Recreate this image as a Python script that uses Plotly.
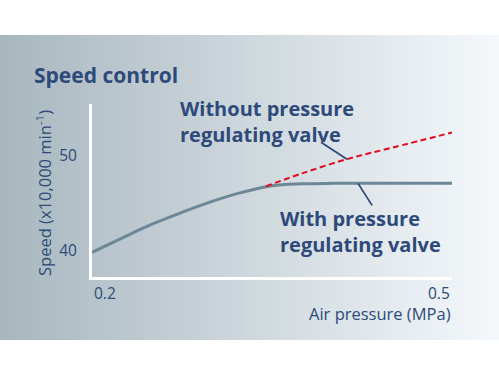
import plotly.graph_objects as go

# ---- data ----
with_x = [0.2, 0.225, 0.25, 0.275, 0.3, 0.325, 0.35, 0.375, 0.4, 0.45, 0.5]
with_y = [39.8, 41.3, 42.75, 44.0, 45.15, 46.1, 46.8, 47.0, 47.05, 47.05, 47.05]
without_x = [0.345, 0.375, 0.4125, 0.45, 0.5]
without_y = [46.75, 48.1, 49.6, 50.8, 52.4]
x_ticks = [0.2, 0.5]
x_tick_labels = ["0.2", "0.5"]
y_ticks = [40, 50]
y_tick_labels = ["40", "50"]

W, H = 499, 376
L, R, T, B = 92, 452, 104, 277  # plot area in pixels
NAVY = "#2d4a7a"
GRAY = "#6d8796"
RED = "#e10a1e"
FONT = "Open Sans"


def px_x(p):
    return (p - L) / (R - L)


def px_y(p):
    return (B - p) / (B - T)


fig = go.Figure()

fig.add_trace(go.Scatter(x=with_x, y=with_y, mode="lines", line=dict(color=GRAY, width=3, shape="spline"),
                         hoverinfo="skip", showlegend=False))
fig.add_trace(go.Scatter(x=without_x, y=without_y, mode="lines",
                         line=dict(color=RED, width=2, dash="6px,3.5px", shape="spline"),
                         hoverinfo="skip", showlegend=False))

# gradient background (strips)
shapes = []
c0 = (0xa8, 0xb7, 0xbf)
c1 = (0xf4, 0xf8, 0xfb)
n = 125
for i in range(n):
    t = i / (n - 1)
    col = "rgb(%d,%d,%d)" % tuple(round(a + (b - a) * t) for a, b in zip(c0, c1))
    x0 = i * W / n
    x1 = (i + 1) * W / n + 0.6
    shapes.append(dict(type="rect", xref="paper", yref="paper", layer="below",
                       x0=px_x(x0), x1=px_x(x1), y0=px_y(340), y1=px_y(35),
                       line=dict(width=0), fillcolor=col))

# leader lines (anchored on data points, offsets in pixels)
shapes.append(dict(type="line", xref="x", yref="y", xsizemode="pixel", ysizemode="pixel",
                   xanchor=without_x[2], yanchor=without_y[2], x0=0, y0=0, x1=-26, y1=17,
                   line=dict(color=NAVY, width=1.8)))
shapes.append(dict(type="line", xref="x", yref="y", xsizemode="pixel", ysizemode="pixel",
                   xanchor=0.4217, yanchor=with_y[-1], x0=0, y0=0, x1=14, y1=-22,
                   line=dict(color=NAVY, width=1.8)))

annotations = [
    dict(text="<b>Speed control</b>", xref="paper", yref="paper", x=px_x(32), y=px_y(75),
         xanchor="left", yanchor="middle", showarrow=False, font=dict(size=21, color=NAVY, family=FONT)),
    dict(text="Speed (x10,000 min<sup>-1</sup>)", xref="paper", yref="paper", x=px_x(44), y=px_y(193),
         xanchor="center", yanchor="middle", textangle=-90, showarrow=False,
         font=dict(size=16.5, color=NAVY, family=FONT)),
    dict(text="Air pressure (MPa)", xref="paper", yref="paper", x=px_x(453), y=px_y(313),
         xanchor="right", yanchor="middle", showarrow=False, font=dict(size=16.5, color=NAVY, family=FONT)),
    dict(text="<b>Without pressure<br>regulating valve</b>", xref="paper", yref="paper", x=px_x(178),
         y=px_y(121), xanchor="left", yanchor="middle", align="left", showarrow=False,
         font=dict(size=20, color=NAVY, family=FONT)),
    dict(text="<b>With pressure<br>regulating valve</b>", xref="paper", yref="paper", x=px_x(278),
         y=px_y(231), xanchor="left", yanchor="middle", align="left", showarrow=False,
         font=dict(size=20, color=NAVY, family=FONT)),
]
for v, lab in zip(x_ticks, x_tick_labels):
    annotations.append(dict(text=lab, x=v, xref="x", yref="paper", y=px_y(293),
                            xanchor="left" if v == x_ticks[0] else "right", yanchor="middle",
                            showarrow=False, font=dict(size=15.5, color=NAVY, family=FONT)))

fig.update_layout(
    width=W, height=H,
    margin=dict(l=L, r=W - R, t=T, b=H - B),
    paper_bgcolor="white", plot_bgcolor="rgba(0,0,0,0)",
    shapes=shapes, annotations=annotations,
    xaxis=dict(range=[0.2, 0.5], showgrid=False, zeroline=False, showline=True, linecolor="white",
               linewidth=3, showticklabels=False, ticks="", fixedrange=True),
    yaxis=dict(range=[37.2, 55.4], showgrid=False, zeroline=False, showline=True, linecolor="white",
               linewidth=3, tickvals=y_ticks, ticktext=y_tick_labels, ticks="",
               ticklabelstandoff=9, tickfont=dict(size=15.5, color=NAVY, family=FONT), fixedrange=True),
    font=dict(family=FONT, color=NAVY),
)

fig.write_html("out.html", config={"displayModeBar": False},
               post_script="document.body.style.margin='0px';")
